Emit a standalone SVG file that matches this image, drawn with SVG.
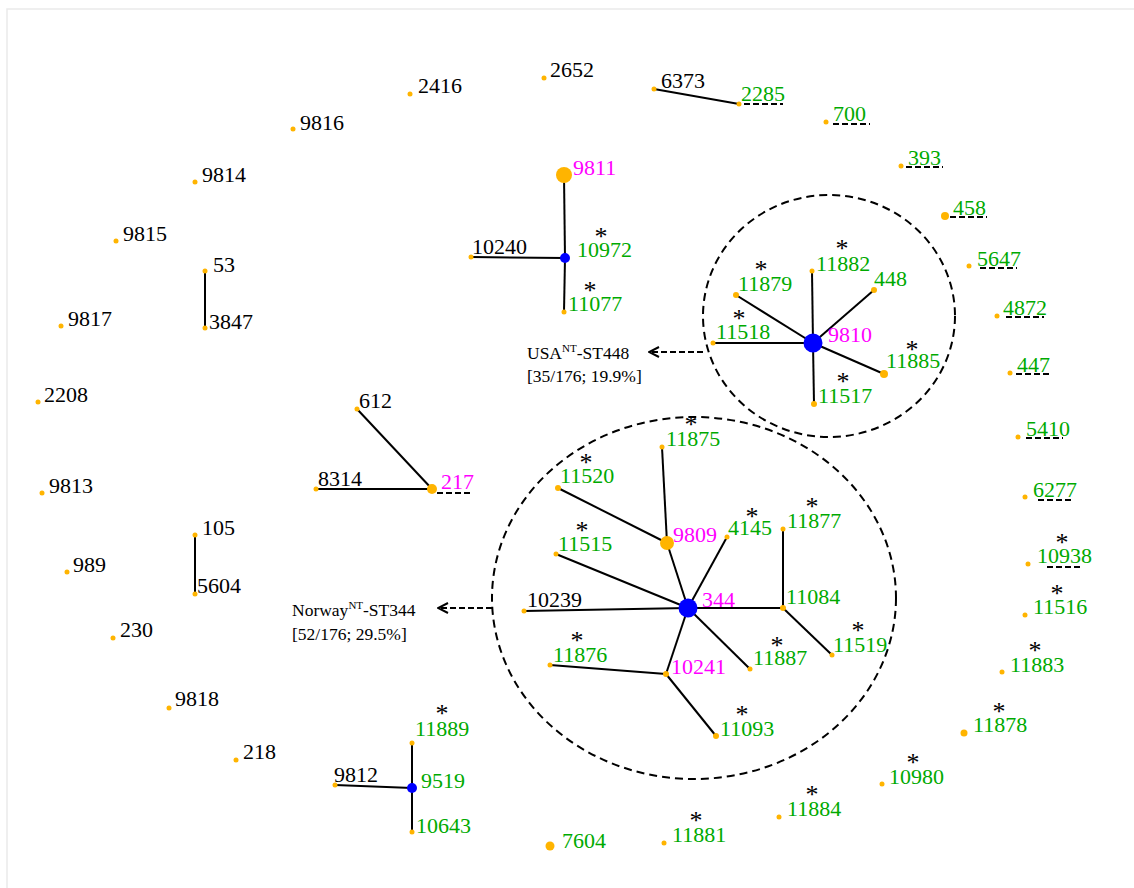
<svg xmlns="http://www.w3.org/2000/svg" width="1134" height="888" viewBox="0 0 1134 888" font-family="'Liberation Serif', 'Times New Roman', serif">
<style>
text{font-family:'Liberation Serif','Times New Roman',serif;font-size:22px}
.k{fill:#000}
.g{fill:#00AA00}
.m{fill:#FF00FF}
.a{fill:#000;font-size:26px;text-anchor:middle}
.d{fill:#FFB400}
.b{fill:#0000FF}
.e{stroke:#000;stroke-width:2;fill:none}
.u{stroke:#000;stroke-width:2;stroke-dasharray:6 3;fill:none}
.hull{stroke:#000;stroke-width:2;stroke-dasharray:8 5;fill:none}
.lab{font-size:17.5px;fill:#000}
.sup{font-size:11px}
</style>
<defs>
<marker id="arr" markerWidth="12" markerHeight="12" refX="11" refY="6" orient="auto" markerUnits="userSpaceOnUse">
<path d="M1,1 L11,6 L1,11" fill="none" stroke="#000" stroke-width="2"/>
</marker>
</defs>
<rect width="1134" height="888" fill="#fff"/>
<path d="M7,888 V9 H1134" stroke="#eaeaea" stroke-width="1.5" fill="none"/>

<g id="connectors">
<line class="e" x1="654" y1="89" x2="739" y2="104"/>
<line class="e" x1="205" y1="271" x2="205" y2="328"/>
<line class="e" x1="195" y1="535" x2="195" y2="594"/>
<line class="e" x1="357" y1="409" x2="432" y2="489"/>
<line class="e" x1="316" y1="489" x2="432" y2="489"/>
<line class="e" x1="564" y1="175" x2="565" y2="258"/>
<line class="e" x1="565" y1="258" x2="564" y2="312"/>
<line class="e" x1="471" y1="257" x2="565" y2="258"/>
<line class="e" x1="335" y1="785" x2="412" y2="788"/>
<line class="e" x1="412" y1="743" x2="412" y2="832"/>
<line class="e" x1="813" y1="343" x2="812" y2="271"/>
<line class="e" x1="813" y1="343" x2="874" y2="290"/>
<line class="e" x1="813" y1="343" x2="736" y2="295"/>
<line class="e" x1="813" y1="343" x2="713" y2="343"/>
<line class="e" x1="813" y1="343" x2="884" y2="374"/>
<line class="e" x1="813" y1="343" x2="814" y2="404"/>
<line class="e" x1="688" y1="608" x2="667" y2="543"/>
<line class="e" x1="667" y1="543" x2="662" y2="447"/>
<line class="e" x1="667" y1="543" x2="558" y2="488"/>
<line class="e" x1="688" y1="608" x2="556" y2="554"/>
<line class="e" x1="688" y1="608" x2="524" y2="611"/>
<line class="e" x1="688" y1="608" x2="727" y2="537"/>
<line class="e" x1="688" y1="608" x2="783" y2="608"/>
<line class="e" x1="783" y1="608" x2="783" y2="529"/>
<line class="e" x1="783" y1="608" x2="832" y2="655"/>
<line class="e" x1="688" y1="608" x2="750" y2="669"/>
<line class="e" x1="688" y1="608" x2="666" y2="674"/>
<line class="e" x1="666" y1="674" x2="550" y2="665"/>
<line class="e" x1="666" y1="674" x2="716" y2="736"/>
<line class="u" x1="703" y1="352" x2="649" y2="352" marker-end="url(#arr)"/>
<line class="u" x1="492" y1="608" x2="438" y2="608" marker-end="url(#arr)"/>
</g>

<g id="cluster-usa">
<ellipse class="hull" cx="829" cy="316" rx="126" ry="121"/>
<text class="lab" x="527" y="359">USA<tspan class="sup" dy="-7">NT</tspan><tspan dy="7">-ST448</tspan></text>
<text class="lab" x="527" y="382">[35/176; 19.9%]</text>
</g>
<g id="cluster-norway">
<ellipse class="hull" cx="694" cy="598" rx="202" ry="181"/>
<text class="lab" x="292" y="616">Norway<tspan class="sup" dy="-7">NT</tspan><tspan dy="7">-ST344</tspan></text>
<text class="lab" x="292" y="640">[52/176; 29.5%]</text>
</g>

<g id="n2416"><circle class="d" cx="410" cy="94" r="2.5"/><text class="k" x="418" y="93">2416</text></g>
<g id="n2652"><circle class="d" cx="544" cy="78" r="2.5"/><text class="k" x="550" y="77">2652</text></g>
<g id="n6373"><circle class="d" cx="654" cy="89" r="2.5"/><text class="k" x="661" y="88">6373</text></g>
<g id="n2285"><circle class="d" cx="739" cy="104" r="2.5"/><text class="g" x="741" y="101">2285</text><line class="u" x1="744" y1="104" x2="783" y2="104"/></g>
<g id="n9816"><circle class="d" cx="293" cy="129" r="2.5"/><text class="k" x="300" y="130">9816</text></g>
<g id="n9814"><circle class="d" cx="195" cy="182" r="2.5"/><text class="k" x="202" y="182">9814</text></g>
<g id="n9815"><circle class="d" cx="116" cy="241" r="2.5"/><text class="k" x="123" y="241">9815</text></g>
<g id="n53"><circle class="d" cx="205" cy="271" r="2.5"/><text class="k" x="213" y="272">53</text></g>
<g id="n3847"><circle class="d" cx="205" cy="328" r="2.5"/><text class="k" x="209" y="329">3847</text></g>
<g id="n9817"><circle class="d" cx="61" cy="326" r="2.5"/><text class="k" x="68" y="326">9817</text></g>
<g id="n2208"><circle class="d" cx="38" cy="402" r="2.5"/><text class="k" x="44" y="402">2208</text></g>
<g id="n9813"><circle class="d" cx="42" cy="493" r="2.5"/><text class="k" x="49" y="493">9813</text></g>
<g id="n989"><circle class="d" cx="67" cy="572" r="2.5"/><text class="k" x="73" y="572">989</text></g>
<g id="n105"><circle class="d" cx="195" cy="535" r="2.5"/><text class="k" x="202" y="535">105</text></g>
<g id="n5604"><circle class="d" cx="195" cy="594" r="2.5"/><text class="k" x="197" y="593">5604</text></g>
<g id="n230"><circle class="d" cx="113" cy="638" r="2.5"/><text class="k" x="120" y="637">230</text></g>
<g id="n9818"><circle class="d" cx="169" cy="708" r="2.5"/><text class="k" x="175" y="706">9818</text></g>
<g id="n218"><circle class="d" cx="236" cy="760" r="2.5"/><text class="k" x="243" y="759">218</text></g>
<g id="n612"><circle class="d" cx="357" cy="409" r="2.5"/><text class="k" x="359" y="408">612</text></g>
<g id="n8314"><circle class="d" cx="316" cy="489" r="2.5"/><text class="k" x="318" y="486">8314</text></g>
<g id="n217"><circle class="d" cx="432" cy="489" r="5"/><text class="m" x="441" y="489">217</text><line class="u" x1="437" y1="493" x2="473" y2="493"/></g>

<g id="n9811"><circle class="d" cx="564" cy="175" r="8"/><text class="m" x="573" y="175">9811</text></g>
<g id="n10972"><circle class="b" cx="565" cy="258" r="5"/><text class="g" x="577" y="257">10972</text><text class="a" x="601" y="245">*</text></g>
<g id="n10240"><circle class="d" cx="471" cy="257" r="2.5"/><text class="k" x="472" y="254">10240</text></g>
<g id="n11077"><circle class="d" cx="564" cy="312" r="2.5"/><text class="g" x="568" y="311">11077</text><text class="a" x="590" y="299">*</text></g>

<g id="n700"><circle class="d" cx="826" cy="122" r="2.5"/><text class="g" x="833" y="121">700</text><line class="u" x1="833" y1="124" x2="870" y2="124"/></g>
<g id="n393"><circle class="d" cx="901" cy="166" r="2.5"/><text class="g" x="908" y="165">393</text><line class="u" x1="906" y1="167" x2="943" y2="167"/></g>
<g id="n458"><circle class="d" cx="945" cy="216" r="4"/><text class="g" x="953" y="215">458</text><line class="u" x1="950" y1="217" x2="987" y2="217"/></g>
<g id="n5647"><circle class="d" cx="969" cy="266" r="2.5"/><text class="g" x="977" y="266">5647</text><line class="u" x1="980" y1="268" x2="1017" y2="268"/></g>
<g id="n4872"><circle class="d" cx="997" cy="316" r="2.5"/><text class="g" x="1003" y="315">4872</text><line class="u" x1="1006" y1="317" x2="1044" y2="317"/></g>
<g id="n447"><circle class="d" cx="1010" cy="373" r="2.5"/><text class="g" x="1017" y="372">447</text><line class="u" x1="1016" y1="374" x2="1052" y2="374"/></g>
<g id="n5410"><circle class="d" cx="1018" cy="437" r="2.5"/><text class="g" x="1026" y="436">5410</text><line class="u" x1="1026" y1="438" x2="1063" y2="438"/></g>
<g id="n6277"><circle class="d" cx="1025" cy="497" r="2.5"/><text class="g" x="1033" y="497">6277</text><line class="u" x1="1038" y1="500" x2="1074" y2="500"/></g>
<g id="n10938"><circle class="d" cx="1028" cy="564" r="2.5"/><text class="g" x="1037" y="563">10938</text><line class="u" x1="1047" y1="567" x2="1083" y2="567"/><text class="a" x="1062" y="551">*</text></g>
<g id="n11516"><circle class="d" cx="1025" cy="615" r="2.5"/><text class="g" x="1033" y="614">11516</text><text class="a" x="1057" y="602">*</text></g>
<g id="n11883"><circle class="d" cx="1002" cy="672" r="2.5"/><text class="g" x="1010" y="672">11883</text><text class="a" x="1035" y="659">*</text></g>
<g id="n11878"><circle class="d" cx="964" cy="733" r="3.5"/><text class="g" x="973" y="732">11878</text><text class="a" x="999" y="720">*</text></g>
<g id="n10980"><circle class="d" cx="882" cy="784" r="2.5"/><text class="g" x="889" y="784">10980</text><text class="a" x="913" y="771">*</text></g>
<g id="n11884"><circle class="d" cx="779" cy="817" r="2.5"/><text class="g" x="787" y="816">11884</text><text class="a" x="812" y="803">*</text></g>
<g id="n11881"><circle class="d" cx="664" cy="843" r="2.5"/><text class="g" x="672" y="842">11881</text><text class="a" x="696" y="829">*</text></g>
<g id="n7604"><circle class="d" cx="550" cy="846" r="4.5"/><text class="g" x="562" y="848">7604</text></g>

<g id="n9812"><circle class="d" cx="335" cy="785" r="2.5"/><text class="k" x="334" y="782">9812</text></g>
<g id="n9519"><circle class="b" cx="412" cy="788" r="5"/><text class="g" x="421" y="788">9519</text></g>
<g id="n11889"><circle class="d" cx="412" cy="743" r="2.5"/><text class="g" x="415" y="736">11889</text><text class="a" x="442" y="722">*</text></g>
<g id="n10643"><circle class="d" cx="412" cy="832" r="2.5"/><text class="g" x="416" y="833">10643</text></g>

<g id="n9810"><circle class="b" cx="813" cy="343" r="9.5"/><text class="m" x="828" y="342">9810</text></g>
<g id="n11882"><circle class="d" cx="812" cy="271" r="2.5"/><text class="g" x="816" y="271">11882</text><text class="a" x="842" y="257">*</text></g>
<g id="n448"><circle class="d" cx="874" cy="290" r="3"/><text class="g" x="874" y="286">448</text></g>
<g id="n11879"><circle class="d" cx="736" cy="295" r="3"/><text class="g" x="738" y="291">11879</text><text class="a" x="761" y="278">*</text></g>
<g id="n11518"><circle class="d" cx="713" cy="343" r="2.5"/><text class="g" x="716" y="339">11518</text><text class="a" x="739" y="327">*</text></g>
<g id="n11885"><circle class="d" cx="884" cy="374" r="4"/><text class="g" x="886" y="368">11885</text><text class="a" x="912" y="358">*</text></g>
<g id="n11517"><circle class="d" cx="814" cy="404" r="3"/><text class="g" x="818" y="403">11517</text><text class="a" x="843" y="390">*</text></g>

<g id="n344"><circle class="b" cx="688" cy="608" r="9.5"/><text class="m" x="702" y="607">344</text></g>
<g id="n9809"><circle class="d" cx="667" cy="543" r="7"/><text class="m" x="673" y="542">9809</text></g>
<g id="n11875"><circle class="d" cx="662" cy="447" r="2.5"/><text class="g" x="666" y="446">11875</text><text class="a" x="691" y="433">*</text></g>
<g id="n11520"><circle class="d" cx="558" cy="488" r="3"/><text class="g" x="560" y="483">11520</text><text class="a" x="586" y="471">*</text></g>
<g id="n11515"><circle class="d" cx="556" cy="554" r="2.5"/><text class="g" x="558" y="551">11515</text><text class="a" x="582" y="539">*</text></g>
<g id="n10239"><circle class="d" cx="524" cy="611" r="2.5"/><text class="k" x="527" y="607">10239</text></g>
<g id="n4145"><circle class="d" cx="727" cy="537" r="2.5"/><text class="g" x="728" y="535">4145</text><text class="a" x="752" y="525">*</text></g>
<g id="n11877"><circle class="d" cx="783" cy="529" r="2.5"/><text class="g" x="787" y="528">11877</text><text class="a" x="812" y="515">*</text></g>
<g id="n11084"><circle class="d" cx="783" cy="608" r="3"/><text class="g" x="786" y="604">11084</text></g>
<g id="n11519"><circle class="d" cx="832" cy="655" r="2.5"/><text class="g" x="833" y="652">11519</text><text class="a" x="858" y="639">*</text></g>
<g id="n11887"><circle class="d" cx="750" cy="669" r="2.5"/><text class="g" x="753" y="665">11887</text><text class="a" x="777" y="654">*</text></g>
<g id="n10241"><circle class="d" cx="666" cy="674" r="3"/><text class="m" x="671" y="674">10241</text></g>
<g id="n11876"><circle class="d" cx="550" cy="665" r="2.5"/><text class="g" x="553" y="662">11876</text><text class="a" x="577" y="649">*</text></g>
<g id="n11093"><circle class="d" cx="716" cy="736" r="3"/><text class="g" x="720" y="736">11093</text><text class="a" x="742" y="723">*</text></g>
</svg>
